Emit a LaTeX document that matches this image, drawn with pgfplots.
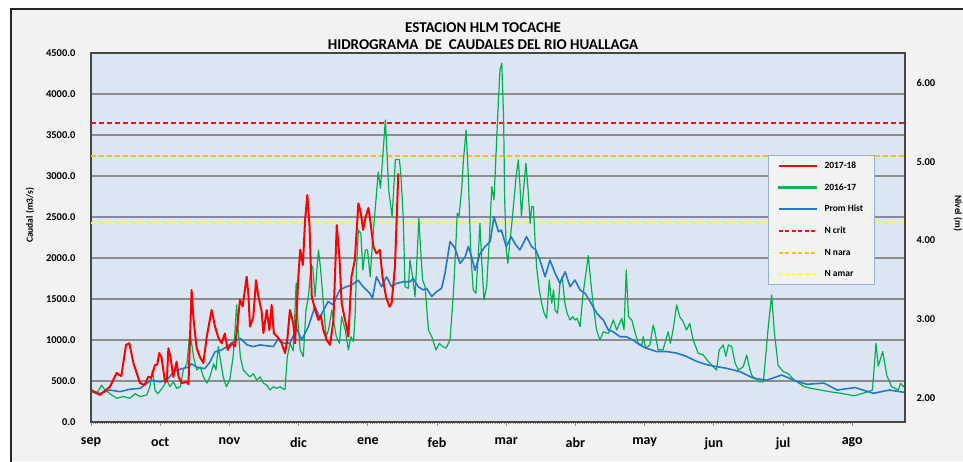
\documentclass[border=0pt]{standalone}
\usepackage{fontspec}
\setmainfont{Carlito}
\usepackage{pgfplots}
\pgfplotsset{compat=1.18}
\definecolor{plotbg}{RGB}{220,230,242}
\definecolor{chartbg}{RGB}{242,242,242}
\definecolor{gridc}{RGB}{140,140,140}
\definecolor{axisc}{RGB}{70,70,70}
\definecolor{serred}{RGB}{255,0,0}
\definecolor{sergreen}{RGB}{0,176,80}
\definecolor{leggreen}{RGB}{20,180,80}
\definecolor{serblue}{RGB}{35,120,200}
\definecolor{ncrit}{RGB}{235,20,20}
\definecolor{nnara}{RGB}{255,192,0}
\definecolor{namar}{RGB}{255,255,0}
\definecolor{legborder}{RGB}{149,179,215}
\begin{document}
\begin{tikzpicture}[x=1pt,y=1pt]
\fill[white] (0,0) rectangle (963,461);
\fill[chartbg] (11,0) rectangle (963,452);
\draw[line width=1.8pt, black!85] (11,-2) -- (11,452) -- (965,452);
\begin{axis}[
  at={(91pt,39pt)}, anchor=south west,
  width=814pt, height=369pt, scale only axis,
  xmin=0, xmax=365, ymin=0, ymax=4500,
  axis background/.style={fill=plotbg},
  axis line style={axisc, line width=1.3pt},
  xtick={0,31.03,62.06,93.09,124.12,155.15,186.18,217.21,248.24,279.27,310.3,341.33},
  xticklabels={sep,oct,nov,dic,ene,feb,mar,abr,may,jun,jul,ago},
  minor x tick num=30,
  x tick style={gridc, line width=0.8pt},
  xtick pos=bottom, xtick align=outside,
  major tick length=4pt, minor tick length=2pt,
  ytick={0,500,...,4500},
  ytick style={draw=none},
  ytick pos=left,
  ymajorgrids, grid style={gridc, line width=1.2pt},
  yticklabel style={font=\fontsize{10.5}{12}\selectfont\bfseries, xshift=-12pt},
  xticklabel style={font=\fontsize{14}{16}\selectfont\bfseries, yshift=-8pt},
  /pgf/number format/.cd, fixed, fixed zerofill, precision=1, set thousands separator={}, assume math mode=true,
  /pgfplots/.cd,
  ylabel={Caudal (m3/s)},
  every axis y label/.style={at={(axis description cs:-0.075,0.56)}, rotate=90, anchor=center, font=\fontsize{9.5}{10}\selectfont\bfseries},
  title={ESTACION HLM TOCACHE\\HIDROGRAMA\ \ DE\ \ CAUDALES DEL RIO HUALLAGA},
  title style={at={(axis description cs:0.4816,1.0284)}, anchor=center, align=center, font=\fontsize{15}{17}\selectfont\bfseries},
  legend style={at={(0.8317,0.7236)}, anchor=north west, draw=legborder, line width=1pt, fill=chartbg,
    font=\fontsize{9.5}{10}\selectfont\bfseries, inner xsep=9pt, inner ysep=4pt,
    nodes={inner sep=2pt, text height=7pt, text depth=2pt}, row sep=8.7pt, column sep=5pt},
  legend cell align=left,
]
\addlegendimage{legend image code/.code={\draw[serred, line width=2pt] (0pt,0pt) -- (38pt,0pt);}}
\addlegendentry{2017-18}
\addlegendimage{legend image code/.code={\fill[leggreen] (0pt,-0.7pt) rectangle (38pt,0.7pt);}}
\addlegendentry{2016-17}
\addlegendimage{legend image code/.code={\draw[serblue, line width=1.8pt] (0pt,0pt) -- (38pt,0pt);}}
\addlegendentry{Prom Hist}
\addlegendimage{legend image code/.code={\draw[ncrit, line width=1.6pt, dash pattern=on 4pt off 2.5pt] (0pt,0pt) -- (38pt,0pt);}}
\addlegendentry{N crit}
\addlegendimage{legend image code/.code={\draw[nnara, line width=1.6pt, dash pattern=on 4pt off 2.5pt] (0pt,0pt) -- (38pt,0pt);}}
\addlegendentry{N nara}
\addlegendimage{legend image code/.code={\draw[namar, line width=1.6pt, dash pattern=on 4pt off 2.5pt] (0pt,0pt) -- (38pt,0pt);}}
\addlegendentry{N amar}

% threshold lines
\addplot[forget plot, ncrit, line width=1.8pt, dash pattern=on 5pt off 3pt] coordinates {(0,3650) (365,3650)};
\addplot[forget plot, nnara, line width=1.8pt, dash pattern=on 5pt off 3pt] coordinates {(0,3245) (365,3245)};
\addplot[forget plot, namar, line width=1.8pt, dash pattern=on 5pt off 3pt] coordinates {(0,2425) (365,2425)};

% 2016-17
\addplot[forget plot, sergreen, line width=1.2pt, line join=round] coordinates {
(0,370) (2.5,345) (4.8,450) (6.3,390) (8.5,345) (11.5,290) (14.5,310) (17.5,290) (19.7,345) (22,310) (25,330) (26.4,430) (27.6,634) (28.7,390) (30,345) (32.4,430) (34,510) (35.4,430) (37,490) (38.4,410) (40,430) (41.4,634) (43,710) (44.4,1100) (46,790) (47.4,634) (49,670) (50.4,550) (52,475) (53.3,550) (55,710) (56,634) (57.1,920) (58,760) (59.3,550) (60.7,430) (62.2,510) (63.7,790) (64.6,1122) (65.3,1427) (66,1122) (67,790) (68.3,634) (69.8,590) (71.3,550) (72.8,590) (74.3,510) (75.8,550) (77.3,475) (78.8,450) (80.3,390) (81.8,430) (83.3,410) (84.8,430) (86.3,400) (87,400) (88,790) (89.2,960) (90.7,870) (92,1695) (92.6,1300) (93.8,880) (95.2,796) (96.4,1366) (97.5,1528) (98.5,1854) (99.4,1894) (100.5,1528) (101.3,1854) (102,2098) (103,1854) (104.2,1448) (105.4,1040) (106.5,1120) (108,1366) (109,1200) (110,1040) (111.4,960) (112.4,1285) (114,1120) (115.4,880) (116.6,1040) (117.7,980) (118.4,1285) (119.1,1894) (119.9,2341) (121,2300) (121.9,1854) (123,2098) (124,2098) (125.2,1772) (126.4,2260) (127.4,2585) (128.8,3050) (129.8,2850) (132,3683) (133.5,2830) (135,2504) (136.5,3200) (138.3,3200) (139,3000) (140,2500) (140.8,1650) (142.3,1630) (143,1975) (144.2,1772) (145.3,1528) (146,1894) (147,2484) (147.8,2098) (148.7,1732) (149.8,1650) (151.3,1122) (152.8,1040) (154.7,878) (156.2,960) (157.7,920) (159.2,900) (161,1000) (162.5,1570) (163.7,2220) (164.2,2545) (165,2505) (166.2,2830) (167,3195) (168.2,3560) (169.2,2991) (170.3,2057) (171.4,1610) (172.6,1570) (173.7,2057) (174.4,2423) (175.2,1975) (176.2,1488) (177.4,1650) (178.6,2220) (179.7,2870) (180.7,2707) (181.9,3440) (182.7,3927) (183.4,4300) (184.2,4375) (185,3723) (185.5,2707) (186.2,2098) (186.9,1935) (187.6,2138) (189,2504) (190.6,2991) (191.6,3195) (192.3,2910) (193,2504) (193.8,2790) (195,3154) (196,2830) (196.9,2423) (197.6,2626) (198.4,2626) (199.1,2220) (199.8,1894) (201,1610) (202.1,1447) (203.2,1325) (204.3,1265) (205.5,1732) (206.6,1447) (207.4,1610) (208.1,1366) (209.2,1325) (210.3,1691) (211.3,1772) (212.5,1447) (213.5,1325) (214.8,1244) (216,1285) (217,1244) (218,1265) (219.3,1163) (220.5,1528) (221.5,1732) (223,2030) (224,1732) (225.3,1406) (226.7,1122) (228.2,1000) (229.7,1100) (232,1080) (234.2,1244) (235.7,1122) (238,1265) (239,1122) (240,1854) (241,1285) (242.5,1244) (244,1085) (245.4,960) (247,940) (247.6,1040) (248.7,900) (250.6,940) (252.1,1183) (253,1080) (254.3,880) (256.5,880) (258.8,1100) (259.8,960) (261,1122) (262.6,1427) (264,1285) (265.5,1225) (267,1122) (268.5,1203) (270,1000) (272.3,837) (274.5,820) (276.7,740) (279,675) (280.5,634) (281.7,880) (283.5,940) (284.7,800) (285.8,940) (287.3,920) (288.8,720) (290.3,634) (292.5,675) (294,817) (295.3,655) (296.3,570) (299.3,490) (301.5,490) (303.7,1163) (305.2,1549) (306.4,1100) (308.1,690) (310.4,614) (312.6,590) (315,520) (319.8,430) (323,410) (327.3,390) (331,370) (336.2,350) (342.2,320) (347.4,360) (350.4,390) (352,960) (353,680) (355,860) (356.8,570) (359,430) (362,390) (363,470) (364.3,430) (365,450)
};

% Prom Hist
\addplot[forget plot, serblue, line width=1.6pt, line join=round] coordinates {
(0,390) (4,345) (8.5,390) (13,370) (17.5,400) (22,410) (25,470) (27,510) (31,490) (34,510) (37,610) (40.7,650) (43.7,670) (45,710) (47.4,670) (51,650) (53.3,730) (55.6,855) (58.6,880) (61,920) (64,980) (67,1020) (70,940) (72.8,920) (75.8,940) (78.8,930) (81.8,920) (84,1020) (86.3,960) (89.2,960) (92.2,1140) (94.5,1000) (97.5,1165) (100.4,1410) (102.6,1270) (106.3,1470) (108.5,1430) (111.5,1610) (114.5,1650) (116.8,1670) (119.8,1730) (122,1650) (125,1570) (126.2,1510) (128,1770) (130.3,1650) (132.5,1770) (134.8,1650) (137,1690) (140,1710) (143,1710) (144.5,1750) (146.7,1650) (149,1610) (150.5,1630) (152.8,1530) (155,1590) (157.2,1630) (158.7,1810) (161,2200) (163.2,2120) (165.5,1935) (167.7,2010) (169.2,2140) (170.7,2010) (172.2,1850) (174.4,2050) (176.7,2140) (179,2200) (180.7,2505) (182.7,2320) (184,2340) (186.2,2138) (188.4,2260) (190,2180) (192.3,2098) (195.3,2260) (197.6,2138) (199.5,2098) (201.3,1975) (203.6,1772) (205.8,1975) (208.1,1813) (210.3,1691) (212.6,1833) (214.8,1650) (217,1732) (219.3,1610) (221.5,1570) (223.8,1470) (226.8,1325) (229.7,1244) (232,1122) (234.2,1100) (237.2,1040) (240,1040) (243,1000) (246,940) (249,900) (253.5,860) (258,860) (262.6,840) (267,800) (271.5,740) (276,700) (280.5,675) (285,655) (291,614) (297,535) (303,510) (309.7,573) (316,500) (321,460) (328.6,475) (334.6,390) (342.6,420) (350.8,350) (358,390) (365,360)
};

% 2017-18
\addplot[forget plot, serred, line width=2pt, line join=round] coordinates {
(0,390) (4,330) (8.5,430) (11.5,597) (13.6,560) (15.7,940) (17.2,960) (19,720) (22,475) (24,450) (25.7,553) (27,540) (28.7,695) (29.7,700) (30.6,840) (31.6,790) (33.2,490) (34,500) (34.7,900) (35.6,800) (36.9,550) (38.4,735) (39.3,550) (40.7,475) (43,490) (43.7,460) (45.1,1610) (46,1245) (47.4,900) (48.9,790) (50.4,720) (51.9,1040) (54.1,1366) (55.6,1165) (57.1,1030) (58.6,960) (60,1080) (61.3,880) (63.1,960) (64.6,920) (65.6,1163) (66.8,1490) (68,1410) (69.8,1772) (70.6,1540) (71.3,1163) (72.8,1285) (74,1730) (75,1540) (76.5,1350) (77.3,1085) (78.8,1365) (80,1120) (81,1427) (82,1080) (83.6,1040) (85.5,960) (87,840) (88,1000) (89.2,1365) (90.7,1203) (91.5,960) (93,1772) (93.8,2100) (95,1915) (96,2463) (97,2768) (98,2382) (99,1528) (100.5,1365) (102,1244) (103,1300) (104.2,1122) (105.7,1000) (107.2,940) (108.7,1244) (110.2,2400) (111.4,2016) (112.4,1448) (113.6,1285) (114.6,1160) (115.4,1040) (116.8,1772) (118.3,1975) (119.9,2667) (121,2545) (122,2342) (123.2,2505) (124.4,2610) (125.4,2422) (126.6,2138) (128,2057) (129.5,2098) (130.7,1772) (132.3,1528) (133.8,1406) (134.8,1448) (136.3,1894) (137,2423) (137.8,3033)
};
\end{axis}
\begin{axis}[
  at={(91pt,39pt)}, anchor=south west,
  width=814pt, height=369pt, scale only axis,
  xmin=0, xmax=365, ymin=1.695, ymax=6.38,
  axis x line=none, axis y line*=right,
  axis line style={axisc, line width=1.3pt},
  ytick={2,3,4,5,6},
  ytick style={draw=none},
  yticklabel style={font=\fontsize{10.5}{12}\selectfont\bfseries, xshift=8pt},
  /pgf/number format/.cd, fixed, fixed zerofill, precision=2, assume math mode=true,
  /pgfplots/.cd,
  ylabel={Nivel (m)},
  every axis y label/.style={at={(axis description cs:1.065,0.566)}, rotate=-90, anchor=center, font=\fontsize{9.5}{10}\selectfont\bfseries},
]
\addplot[draw=none, forget plot] coordinates {(0,2) (365,2)};
\end{axis}
\pgfresetboundingbox
\path[use as bounding box] (0,0) rectangle (963,461);
\end{tikzpicture}
\end{document}
